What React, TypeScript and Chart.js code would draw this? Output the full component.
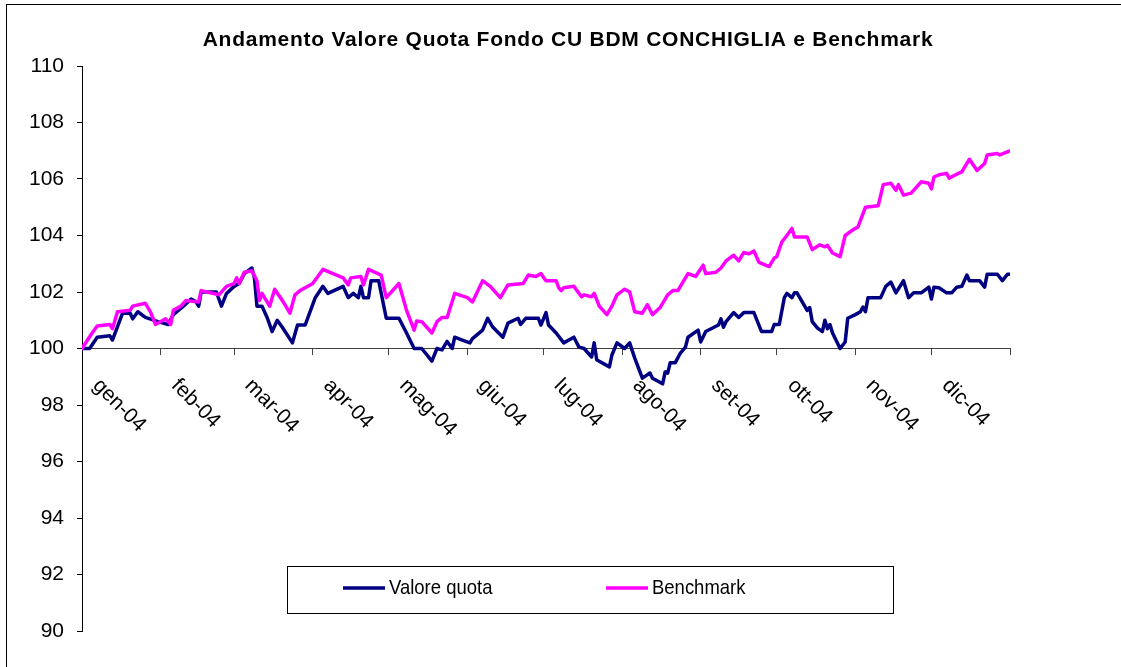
import React, { useEffect, useRef } from "react";
import { Chart, registerables } from "chart.js";

Chart.register(...registerables);

const TITLE = "Andamento Valore Quota Fondo CU BDM CONCHIGLIA e Benchmark";
const SERIES_LABELS = ["Valore quota", "Benchmark"];
const SERIES_COLORS = ["#000080", "#FF00FF"];

const MONTH_LABELS = ["gen-04", "feb-04", "mar-04", "apr-04", "mag-04", "giu-04", "lug-04", "ago-04", "set-04", "ott-04", "nov-04", "dic-04"];
// day-of-year (2004) at which each month starts, plus end of year
const MONTH_START_DAYS = [0, 31, 60, 91, 121, 152, 182, 213, 244, 274, 305, 335, 366];

const Y_MIN = 90;
const Y_MAX = 110;
const Y_STEP = 2;
const AXIS_CROSS = 100;

const QUOTA_DAYS = [0, 3, 6, 11, 12, 16, 19, 20, 22, 25, 30, 34, 36, 40, 43, 45, 46, 47, 53, 55, 57, 60, 62, 64, 67, 68, 69, 71, 73, 75, 77, 79, 83, 85, 88, 92, 95, 97, 103, 105, 107, 109, 110, 111, 113, 114, 117, 120, 125, 128, 131, 134, 138, 140, 142, 144, 146, 147, 150, 153, 154, 158, 160, 162, 166, 168, 172, 173, 175, 180, 181, 183, 184, 187, 190, 194, 196, 198, 201, 202, 203, 204, 208, 209, 211, 214, 216, 218, 221, 224, 225, 229, 230, 231, 232, 234, 236, 238, 239, 243, 244, 246, 251, 252, 253, 254, 257, 259, 261, 265, 268, 272, 273, 275, 277, 278, 280, 281, 282, 286, 287, 288, 290, 292, 293, 294, 295, 296, 299, 301, 302, 305, 307, 308, 309, 310, 315, 317, 319, 321, 324, 326, 328, 331, 334, 335, 336, 338, 341, 343, 345, 347, 349, 350, 354, 356, 357, 361, 363, 365, 366];
const QUOTA_VALUES = [100.0, 100.0, 100.4, 100.45, 100.3, 101.25, 101.25, 101.05, 101.3, 101.1, 100.95, 100.85, 101.2, 101.5, 101.75, 101.65, 101.5, 102.0, 102.0, 101.5, 101.95, 102.2, 102.3, 102.65, 102.85, 102.5, 101.5, 101.5, 101.1, 100.6, 101.0, 100.75, 100.2, 100.83, 100.83, 101.8, 102.2, 101.95, 102.2, 101.8, 101.95, 101.8, 102.2, 101.8, 101.8, 102.4, 102.4, 101.07, 101.07, 100.55, 100.0, 100.0, 99.55, 100.0, 99.95, 100.25, 100.0, 100.4, 100.3, 100.2, 100.35, 100.65, 101.07, 100.76, 100.4, 100.9, 101.07, 100.85, 101.07, 101.07, 100.83, 101.27, 100.83, 100.55, 100.2, 100.4, 100.05, 100.0, 99.7, 100.2, 99.6, 99.55, 99.35, 99.77, 100.2, 100.0, 100.2, 99.66, 98.95, 99.13, 98.95, 98.75, 99.17, 99.13, 99.5, 99.5, 99.84, 100.05, 100.4, 100.65, 100.23, 100.6, 100.83, 101.05, 100.75, 100.95, 101.27, 101.1, 101.27, 101.27, 100.6, 100.6, 100.85, 100.85, 101.8, 101.95, 101.8, 101.97, 101.97, 101.35, 101.45, 100.95, 100.73, 100.6, 101.0, 100.7, 100.85, 100.55, 100.0, 100.23, 101.07, 101.2, 101.3, 101.47, 101.3, 101.8, 101.8, 102.2, 102.35, 101.97, 102.4, 101.8, 101.97, 101.97, 102.17, 101.75, 102.17, 102.15, 101.97, 101.97, 102.17, 102.2, 102.6, 102.4, 102.4, 102.17, 102.63, 102.63, 102.4, 102.63, 102.63];

const BENCH_DAYS = [0, 4, 6, 11, 12, 14, 19, 20, 25, 27, 29, 33, 35, 36, 39, 41, 46, 47, 54, 57, 60, 61, 62, 64, 67, 69, 70, 71, 74, 76, 79, 82, 84, 86, 90, 91, 95, 99, 103, 105, 106, 110, 111, 113, 118, 120, 125, 128, 131, 132, 134, 138, 140, 142, 144, 147, 152, 154, 158, 161, 165, 168, 174, 176, 179, 181, 183, 187, 188, 189, 190, 194, 197, 198, 201, 202, 204, 207, 209, 211, 214, 216, 218, 221, 223, 225, 228, 231, 233, 235, 239, 242, 245, 246, 250, 252, 254, 257, 259, 261, 263, 265, 267, 271, 273, 274, 276, 278, 280, 281, 286, 288, 291, 293, 294, 296, 299, 301, 304, 306, 309, 314, 316, 319, 321, 322, 324, 327, 331, 334, 335, 336, 338, 341, 342, 345, 347, 350, 353, 356, 357, 361, 362, 366];
const BENCH_VALUES = [100.0, 100.55, 100.8, 100.85, 100.7, 101.3, 101.35, 101.5, 101.6, 101.3, 100.85, 101.05, 100.85, 101.35, 101.5, 101.7, 101.65, 102.05, 101.9, 102.2, 102.3, 102.5, 102.3, 102.7, 102.75, 102.4, 101.7, 101.95, 101.5, 102.1, 101.7, 101.25, 101.9, 102.05, 102.25, 102.3, 102.8, 102.65, 102.5, 102.25, 102.5, 102.55, 102.25, 102.8, 102.6, 101.8, 102.3, 101.35, 100.65, 100.97, 100.95, 100.55, 100.95, 101.1, 101.1, 101.95, 101.8, 101.65, 102.4, 102.2, 101.8, 102.25, 102.3, 102.6, 102.55, 102.65, 102.4, 102.4, 102.15, 102.05, 102.15, 102.2, 101.83, 101.9, 101.83, 101.95, 101.5, 101.2, 101.5, 101.9, 102.1, 102.0, 101.3, 101.25, 101.55, 101.2, 101.45, 101.9, 102.05, 102.05, 102.65, 102.55, 102.95, 102.65, 102.7, 102.85, 103.1, 103.3, 103.1, 103.4, 103.35, 103.45, 103.05, 102.9, 103.2, 103.25, 103.77, 104.0, 104.25, 103.95, 103.95, 103.5, 103.67, 103.6, 103.65, 103.38, 103.25, 104.0, 104.2, 104.3, 105.0, 105.05, 105.8, 105.85, 105.6, 105.8, 105.43, 105.5, 105.9, 105.85, 105.65, 106.07, 106.15, 106.2, 106.03, 106.17, 106.25, 106.7, 106.3, 106.55, 106.85, 106.9, 106.85, 107.0];

const FONT = '"Liberation Sans", Arial, sans-serif';

const decorPlugin = {
  id: "decor",
  afterDraw(chart: any) {
    const ctx: any = chart.ctx;
    const xs = chart.scales.x;
    const ys = chart.scales.y;
    ctx.save();
    // outer frame
    ctx.strokeStyle = "#000";
    ctx.lineWidth = 1;
    ctx.strokeRect(6.5, 4.5, chart.width + 20, chart.height + 20);

    // title
    ctx.fillStyle = "#000";
    ctx.font = `bold 21px ${FONT}`;
    ctx.letterSpacing = "0.75px";
    ctx.textAlign = "center";
    ctx.textBaseline = "middle";
    ctx.fillText(TITLE, 568, 40);
    ctx.letterSpacing = "0px";

    // rotated month labels
    const axisY = ys.getPixelForValue(AXIS_CROSS);
    ctx.font = `21px ${FONT}`;
    ctx.textAlign = "left";
    ctx.textBaseline = "middle";
    MONTH_LABELS.forEach((lab, i) => {
      const x = xs.getPixelForValue(MONTH_START_DAYS[i]);
      ctx.save();
      ctx.translate(x + 14, axisY + 34);
      ctx.rotate(Math.PI / 4);
      ctx.fillText(lab, 0, 0);
      ctx.restore();
    });

    // legend box
    const lx = 287.5, ly = 566.5, lw = 606, lh = 47;
    ctx.fillStyle = "#fff";
    ctx.fillRect(lx, ly, lw, lh);
    ctx.strokeStyle = "#000";
    ctx.lineWidth = 1;
    ctx.strokeRect(lx, ly, lw, lh);
    const itemX = [343, 606];
    const midY = ly + 21.5;
    ctx.font = `21px ${FONT}`;
    ctx.textAlign = "left";
    ctx.textBaseline = "middle";
    SERIES_LABELS.forEach((lab, i) => {
      ctx.strokeStyle = SERIES_COLORS[i];
      ctx.lineWidth = 3.5;
      ctx.beginPath();
      ctx.moveTo(itemX[i], midY);
      ctx.lineTo(itemX[i] + 42, midY);
      ctx.stroke();
      ctx.fillStyle = "#000";
      ctx.save();
      ctx.translate(itemX[i] + 46, midY);
      ctx.scale(0.88, 1);
      ctx.fillText(lab, 0, 0);
      ctx.restore();
    });
    ctx.restore();
  },
};

export default function App() {
  const canvasRef = useRef<HTMLCanvasElement | null>(null);

  useEffect(() => {
    if (!canvasRef.current) return;
    const lineStyle = { borderWidth: 3.5, pointRadius: 0, tension: 0, borderJoinStyle: "round" as const, borderCapStyle: "round" as const };
    const chart = new Chart(canvasRef.current, {
      type: "line",
      data: {
        datasets: [
          {
            label: SERIES_LABELS[0],
            data: QUOTA_DAYS.map((d, i) => ({ x: d, y: QUOTA_VALUES[i] })),
            borderColor: SERIES_COLORS[0],
            backgroundColor: SERIES_COLORS[0],
            ...lineStyle,
            order: 1,
          },
          {
            label: SERIES_LABELS[1],
            data: BENCH_DAYS.map((d, i) => ({ x: d, y: BENCH_VALUES[i] })),
            borderColor: SERIES_COLORS[1],
            backgroundColor: SERIES_COLORS[1],
            ...lineStyle,
            order: 0,
          },
        ],
      },
      options: {
        animation: false,
        responsive: true,
        maintainAspectRatio: false,
        layout: { padding: { top: 66, left: 0, right: 111, bottom: 36 } },
        plugins: {
          legend: { display: false },
          title: { display: false },
          tooltip: { enabled: false },
        },
        scales: {
          x: {
            type: "linear",
            min: MONTH_START_DAYS[0],
            max: MONTH_START_DAYS[MONTH_START_DAYS.length - 1],
            position: { y: AXIS_CROSS } as any,
            afterBuildTicks: (scale: any) => {
              scale.ticks = MONTH_START_DAYS.map((v) => ({ value: v }));
            },
            ticks: { display: false },
            grid: { display: true, drawOnChartArea: false, drawTicks: true, tickLength: 6, color: "#404040", lineWidth: 1 },
            border: { display: true, color: "#404040", width: 1 },
          },
          y: {
            type: "linear",
            min: Y_MIN,
            max: Y_MAX,
            afterFit: (scale: any) => {
              scale.width = 82;
            },
            ticks: { stepSize: Y_STEP, color: "#000", padding: 13, font: { family: FONT, size: 21 } },
            grid: { display: true, drawOnChartArea: false, drawTicks: true, tickLength: 5, color: "#000", lineWidth: 1 },
            border: { display: true, color: "#000", width: 1 },
          },
        },
      },
      plugins: [decorPlugin],
    });
    return () => chart.destroy();
  }, []);

  return (
    <div style={{ position: "fixed", left: 0, top: 0, width: 1121, height: 667, background: "#fff" }}>
      <canvas ref={canvasRef} />
    </div>
  );
}
